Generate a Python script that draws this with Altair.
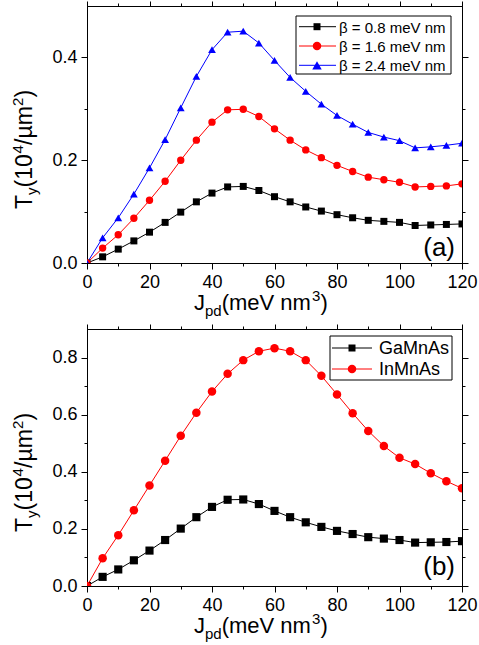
import altair as alt
import pandas as pd

# ---------------- data ----------------
jpd = [0, 5, 10, 15, 20, 25, 30, 35, 40, 45, 50, 55, 60, 65, 70, 75, 80, 85,
       90, 95, 100, 105, 110, 115, 120]

beta_08 = [0.0, 0.012, 0.027, 0.043, 0.060, 0.079, 0.099, 0.119, 0.136, 0.148,
           0.149, 0.141, 0.129, 0.119, 0.109, 0.101, 0.094, 0.088, 0.083, 0.081,
           0.079, 0.073, 0.074, 0.075, 0.076]
beta_16 = [0.0, 0.029, 0.055, 0.087, 0.122, 0.159, 0.200, 0.239, 0.274, 0.298,
           0.299, 0.285, 0.261, 0.239, 0.220, 0.205, 0.190, 0.178, 0.167, 0.162,
           0.157, 0.148, 0.149, 0.150, 0.154]
beta_24 = [0.0, 0.049, 0.088, 0.134, 0.185, 0.240, 0.302, 0.363, 0.415, 0.449,
           0.451, 0.428, 0.394, 0.361, 0.334, 0.309, 0.287, 0.270, 0.254, 0.245,
           0.238, 0.224, 0.226, 0.229, 0.233]

gamnas = [0.0, 0.032, 0.058, 0.090, 0.124, 0.161, 0.201, 0.241, 0.277, 0.302,
          0.303, 0.287, 0.263, 0.241, 0.223, 0.207, 0.193, 0.182, 0.171, 0.166,
          0.161, 0.152, 0.153, 0.154, 0.157]
inmnas = [0.0, 0.097, 0.178, 0.265, 0.352, 0.439, 0.526, 0.607, 0.681, 0.743,
          0.791, 0.822, 0.833, 0.822, 0.791, 0.736, 0.671, 0.605, 0.543, 0.490,
          0.449, 0.427, 0.395, 0.367, 0.342]

labels_a = ["β = 0.8 meV nm", "β = 1.6 meV nm", "β = 2.4 meV nm"]
labels_b = ["GaMnAs", "InMnAs"]

x_ticks = list(range(0, 121, 10))
y_ticks_a = [0.0, 0.1, 0.2, 0.3, 0.4]
y_ticks_b = [0.0, 0.1, 0.2, 0.3, 0.4, 0.5, 0.6, 0.7, 0.8]

# ---------------- styling ----------------
COLORS = ["#000000", "#FF0000", "#0000FF"]
SHAPES = ["square", "circle", "triangle-up"]
SIZES = [49, 72, 90]
FONT = "Liberation Sans"
W, H = 375, 257

one = pd.DataFrame({"k": [0]})

X_MAJOR = "datum.value % 20 == 0"
Y_MAJOR = "round(datum.value * 10) % 2 == 0"


def axis_x(orient, labels):
    big = 6 if orient == "bottom" else 5
    return alt.Axis(
        orient=orient, values=x_ticks, title=None, grid=False,
        labels=labels, labelExpr=f"{X_MAJOR} ? datum.label : ''",
        labelFont=FONT, labelFontSize=18, labelColor="black", labelPadding=4,
        labelFlush=False, labelOverlap=False,
        tickColor="black", domainColor="black", tickWidth=1, domainWidth=1,
        tickSize={"condition": {"test": X_MAJOR, "value": big}, "value": 3},
    )


def axis_y(orient, labels, ticks):
    return alt.Axis(
        orient=orient, values=ticks, title=None, grid=False,
        labels=labels, labelExpr=f"{Y_MAJOR} ? format(datum.value, '.1f') : ''",
        labelFont=FONT, labelFontSize=18, labelColor="black", labelPadding=4,
        labelFlush=False, labelOverlap=False,
        tickColor="black", domainColor="black", tickWidth=1, domainWidth=1,
        tickSize={"condition": {"test": Y_MAJOR, "value": 6}, "value": 3},
    )


def text_piece(txt, x, y, size, dx=0, dy=0, angle=None, align="left"):
    kw = dict(text=txt, font=FONT, fontSize=size, color="black", align=align,
              baseline="alphabetic", dx=dx, dy=dy)
    if angle is not None:
        kw["angle"] = angle
    return alt.Chart(one).mark_text(**kw).encode(x=alt.value(x), y=alt.value(y))


def titles():
    layers = []
    # x title: J_pd(meV nm^3)
    xa, ya = 107, H + 47
    layers += [
        text_piece("J", xa, ya, 22, dx=0),
        text_piece("pd", xa, ya, 15, dx=11, dy=6),
        text_piece("(meV nm", xa, ya, 22, dx=27.7),
        text_piece("3", xa, ya, 15, dx=118, dy=-9),
        text_piece(")", xa, ya, 22, dx=126.5),
    ]
    # y title: T_y(10^4/µm^2), rotated
    xb, yb = -55, 203
    layers += [
        text_piece("T", xb, yb, 23, dx=0, angle=270),
        text_piece("y", xb, yb, 15, dx=14.05, dy=5, angle=270),
        text_piece("(10", xb, yb, 23, dx=21.55, angle=270),
        text_piece("4", xb, yb, 15, dx=55.5, dy=-9, angle=270),
        text_piece("/µm", xb, yb, 23, dx=64, angle=270),
        text_piece("2", xb, yb, 15, dx=103, dy=-9, angle=270),
        text_piece(")", xb, yb, 23, dx=111.5, angle=270),
    ]
    return layers


def legend(labels, box, rows, line_x, mark_x, text_x, fsize):
    x1, x2, y1, y2 = box
    layers = [
        alt.Chart(one).mark_rect(fill="white", stroke="black", strokeWidth=1).encode(
            x=alt.value(x1), x2=alt.value(x2), y=alt.value(y1), y2=alt.value(y2))
    ]
    for i, lab in enumerate(labels):
        ry = rows[i]
        layers.append(
            alt.Chart(one).mark_rule(color=COLORS[i], strokeWidth=1).encode(
                x=alt.value(line_x[0]), x2=alt.value(line_x[1]), y=alt.value(ry)))
        layers.append(
            alt.Chart(one).mark_point(shape=SHAPES[i], filled=True, opacity=1,
                                      color=COLORS[i], size=SIZES[i]).encode(
                x=alt.value(mark_x), y=alt.value(ry)))
        layers.append(
            alt.Chart(one).mark_text(text=lab, font=FONT, fontSize=fsize, color="black",
                                     align="left", baseline="middle").encode(
                x=alt.value(text_x), y=alt.value(ry + 1)))
    return layers


def panel(series, labels, ymax, yticks, tag, tag_y, leg):
    rows = []
    for lab, vals in zip(labels, series):
        for xv, yv in zip(jpd, vals):
            rows.append({"J": xv, "T": yv, "s": lab})
    df = pd.DataFrame(rows)
    n = len(labels)
    xs = alt.Scale(domain=[0, 120], nice=False)
    ys = alt.Scale(domain=[0, ymax], nice=False)
    cs = alt.Scale(domain=labels, range=COLORS[:n])
    base = alt.Chart(df)
    lines = base.mark_line(strokeWidth=1, clip=True).encode(
        x=alt.X("J:Q", scale=xs, axis=axis_x("bottom", True)),
        y=alt.Y("T:Q", scale=ys, axis=axis_y("left", True, yticks)),
        color=alt.Color("s:N", scale=cs, legend=None),
        order=alt.Order("J:Q"),
    )
    pts = base.mark_point(filled=True, opacity=1, clip=True).encode(
        x=alt.X("J:Q", scale=xs, axis=None),
        y=alt.Y("T:Q", scale=ys, axis=None),
        color=alt.Color("s:N", scale=cs, legend=None),
        shape=alt.Shape("s:N", scale=alt.Scale(domain=labels, range=SHAPES[:n]), legend=None),
        size=alt.Size("s:N", scale=alt.Scale(domain=labels, range=SIZES[:n]), legend=None),
    )
    mirror = base.mark_point(opacity=0).encode(
        x=alt.X("J:Q", scale=xs, axis=axis_x("top", False)),
        y=alt.Y("T:Q", scale=ys, axis=axis_y("right", False, yticks)),
    )
    tag_layer = alt.Chart(one).mark_text(text=tag, font=FONT, fontSize=26, color="black",
                                         align="right", baseline="alphabetic").encode(
        x=alt.value(368), y=alt.value(tag_y))
    layers = [lines, pts, mirror] + legend(labels, *leg) + [tag_layer] + titles()
    return alt.layer(*layers).resolve_axis(x="independent", y="independent").properties(
        width=W, height=H)


panel_a = panel([beta_08, beta_16, beta_24], labels_a, 0.5, y_ticks_a, "(a)", 250,
                ((209, 364, 10, 68), [20.7, 40, 59.3], (212, 249), 230, 252, 15))
panel_b = panel([gamnas, inmnas], labels_b, 0.9, y_ticks_b, "(b)", 246,
                ((243, 365, 7, 51), [19, 40], (245, 285), 265, 292, 18))

chart = alt.vconcat(panel_a, panel_b, spacing=3).properties(
    padding={"left": 10, "top": 0, "right": 0, "bottom": 0}
).configure_view(stroke="black", strokeWidth=1)

chart.save("out.html", embed_options={"renderer": "svg", "actions": False})
